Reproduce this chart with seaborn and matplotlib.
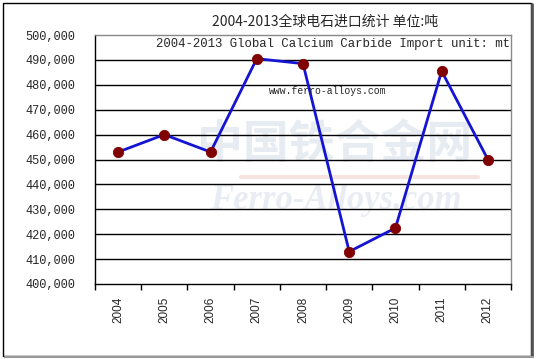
import numpy as np
import pandas as pd
import matplotlib
matplotlib.use("Agg")
import matplotlib.pyplot as plt
import seaborn as sns
from matplotlib.patches import Rectangle
from matplotlib.lines import Line2D
from matplotlib.ticker import FuncFormatter

years = ["2004", "2005", "2006", "2007", "2008", "2009", "2010", "2011", "2012"]
imports_mt = [453000, 460000, 453000, 490500, 488500, 413000, 422500, 485500, 450000]
y_ticks = [400000, 410000, 420000, 430000, 440000, 450000, 460000, 470000, 480000, 490000, 500000]

title_cn = "2004-2013全球电石进口统计 单位:吨"
title_en = "2004-2013 Global Calcium Carbide Import unit: mt"
site = "www.ferro-alloys.com"

df = pd.DataFrame({"year": years, "value": imports_mt})
df["pos"] = np.arange(len(df))

sns.set_style("white")
plt.rcParams["font.family"] = ["Noto Sans CJK SC", "DejaVu Sans"]

fig = plt.figure(figsize=(5.36, 3.59), dpi=100)
ax = fig.add_axes([95 / 536, 1 - 284 / 359, (511 - 95) / 536, (284 - 35) / 359])

# outer frame with shadow
fig.patches.append(Rectangle((3 / 536, 3 / 359), 528 / 536, 353 / 359, transform=fig.transFigure,
                             fill=False, edgecolor="black", linewidth=1.0))
fig.lines.append(Line2D([532 / 536, 532 / 536], [3 / 359, 355 / 359], transform=fig.transFigure,
                        color="#555555", linewidth=2))
fig.lines.append(Line2D([5 / 536, 533 / 536], [2 / 359, 2 / 359], transform=fig.transFigure,
                        color="#999999", linewidth=1.5))

# faint watermark
ax.text(0.577, 0.56, "中国铁合金网", transform=ax.transAxes, ha="center", va="center",
        fontsize=33, fontweight="bold", color="#e7ecf3", zorder=0,
        family=["Noto Sans CJK SC"])
ax.plot([0.35, 0.92], [0.43, 0.43], transform=ax.transAxes, color="#f6e4e0",
        linewidth=3, zorder=0)
ax.text(0.58, 0.335, "Ferro-Alloys.com", transform=ax.transAxes, ha="center", va="center",
        fontsize=25, fontweight="bold", fontstyle="italic", color="#e9edf3", zorder=0,
        family=["Liberation Serif"])

for y in y_ticks[1:-1]:
    ax.axhline(y, color="black", linewidth=1.0, zorder=1)

sns.lineplot(data=df, x="pos", y="value", ax=ax, color="#1414d2", linewidth=2, zorder=3)
sns.scatterplot(data=df, x="pos", y="value", ax=ax, color="#800000", s=55,
                edgecolor="#800000", zorder=4)

ax.set_xlim(-0.5, len(years) - 0.5)
ax.set_ylim(y_ticks[0], y_ticks[-1])
ax.set_xlabel("")
ax.set_ylabel("")

ax.set_xticks(np.arange(len(years) + 1) - 0.5)
ax.set_xticklabels([])
ax.set_xticks(df["pos"], minor=True)
ax.set_xticklabels(years, minor=True, rotation=90, fontsize=8.5, family=["Liberation Sans"])
ax.tick_params(axis="x", which="major", direction="out", length=4, width=1, color="black", bottom=True)
ax.tick_params(axis="x", which="minor", length=0, pad=9)

ax.set_yticks(y_ticks)
ax.yaxis.set_major_formatter(FuncFormatter(lambda v, p: f"{int(v):,}"))
ax.tick_params(axis="y", length=0, pad=14, labelsize=8.6)
for lab in ax.get_yticklabels():
    lab.set_family(["Liberation Mono"])

for side in ["left", "bottom"]:
    ax.spines[side].set_color("black")
    ax.spines[side].set_linewidth(1.0)
for side in ["top", "right"]:
    ax.spines[side].set_color("#888888")
    ax.spines[side].set_linewidth(1.0)

fig.text(325 / 536, 1 - 22 / 359, title_cn, ha="center", va="center", fontsize=10,
         family=["Noto Sans CJK SC", "DejaVu Sans"])
ax.text(0.998, 0.965, title_en, transform=ax.transAxes, ha="right", va="center",
        fontsize=8.9, family=["Liberation Mono"], zorder=5)
ax.text(0.56, 0.775, site, transform=ax.transAxes, ha="center", va="center",
        fontsize=7, family=["Liberation Mono"], zorder=5)

fig.savefig("out.png", dpi=100)
